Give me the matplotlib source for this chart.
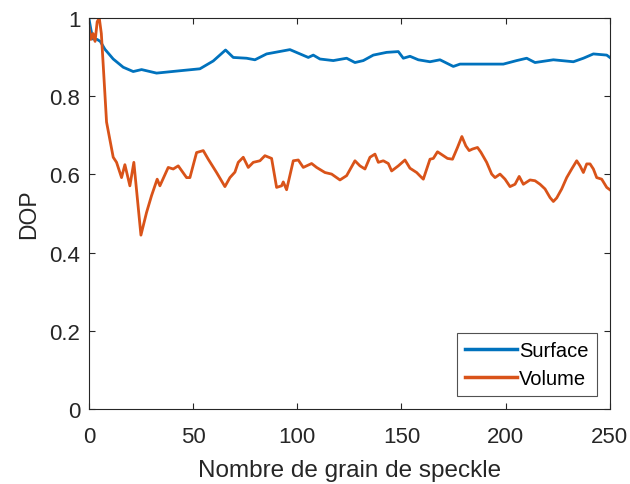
import matplotlib.pyplot as plt

plt.rcParams['font.family'] = ['Liberation Sans', 'DejaVu Sans']

# Valeurs
surface_x = [0, 1, 2, 4, 5.5, 7.7, 11.7, 16.5, 21.3, 25.3, 32.5, 43.7, 53.3, 59.7,
             65.6, 69.3, 75.7, 79.7, 85.3, 96.5, 105.3, 107.7, 110.9, 117.3, 123.7,
             127.7, 131.7, 136.5, 142.9, 148.5, 150.9, 154.1, 158.1, 163.7, 168.5,
             174.9, 178.1, 190.9, 198.9, 205.3, 210.1, 214.1, 222.9, 232.5, 237.3,
             242.1, 248.5, 250]
surface_y = [1.0, 0.97, 0.946, 0.945, 0.94, 0.92, 0.895, 0.874, 0.863, 0.868, 0.859,
             0.865, 0.87, 0.89, 0.918, 0.899, 0.897, 0.893, 0.908, 0.919, 0.899, 0.905,
             0.895, 0.891, 0.897, 0.886, 0.891, 0.905, 0.912, 0.914, 0.897, 0.902,
             0.893, 0.888, 0.893, 0.876, 0.882, 0.882, 0.882, 0.891, 0.897, 0.886,
             0.893, 0.888, 0.897, 0.908, 0.905, 0.899]

volume_x = [0, 1, 2, 3, 4, 5, 6, 6.9, 8.5, 11.7, 13.3, 15.7, 17.3, 19.7, 21.6, 25,
            27.7, 30.1, 32.8, 34.1, 38.1, 40.5, 42.9, 46.9, 48.5, 51.7, 54.9, 57.3,
            61.3, 65.3, 67.7, 70.1, 71.7, 74.1, 76.5, 78.9, 82.1, 84.5, 87.7, 90.1,
            92.5, 93.3, 94.9, 98.1, 100.5, 102.9, 106.9, 109.3, 113.3, 116.5, 120.5,
            123.7, 127.7, 130.1, 132.5, 134.9, 137.3, 138.9, 141.3, 143.7, 145.3,
            148.5, 151.7, 154.1, 157.3, 159.7, 160.5, 163.7, 165.3, 167.3, 172.1,
            174.5, 176.9, 179, 180.9, 182.5, 184.1, 186.5, 188.1, 190.9, 193.3, 194.9,
            197.3, 199.7, 202.1, 204.5, 206.5, 208.5, 211.7, 214.1, 216.5, 218.9,
            221.3, 222.9, 224.5, 226.9, 229.3, 231.7, 234.1, 235.7, 237.3, 238.9,
            240.5, 242.1, 243.7, 246.1, 248.5, 250]
volume_y = [0.98, 0.945, 0.96, 0.94, 0.99, 1.0, 0.96, 0.88, 0.734, 0.644, 0.631, 0.592,
            0.625, 0.571, 0.631, 0.445, 0.503, 0.546, 0.588, 0.571, 0.618, 0.614, 0.622,
            0.592, 0.592, 0.656, 0.661, 0.639, 0.605, 0.569, 0.592, 0.606, 0.631, 0.644,
            0.618, 0.631, 0.635, 0.648, 0.641, 0.567, 0.571, 0.581, 0.561, 0.635, 0.637,
            0.618, 0.628, 0.618, 0.605, 0.601, 0.586, 0.597, 0.635, 0.622, 0.614, 0.644,
            0.652, 0.631, 0.635, 0.628, 0.609, 0.622, 0.637, 0.616, 0.605, 0.592, 0.588,
            0.639, 0.641, 0.658, 0.641, 0.639, 0.669, 0.697, 0.673, 0.661, 0.665, 0.669,
            0.657, 0.631, 0.601, 0.592, 0.601, 0.588, 0.569, 0.575, 0.595, 0.575, 0.586,
            0.584, 0.575, 0.563, 0.541, 0.531, 0.54, 0.563, 0.592, 0.614, 0.635, 0.622,
            0.605, 0.627, 0.627, 0.614, 0.592, 0.588, 0.567, 0.561]

xticks = [0, 50, 100, 150, 200, 250]
yticks = [0, 0.2, 0.4, 0.6, 0.8, 1]
ytick_labels = ['0', '0.2', '0.4', '0.6', '0.8', '1']

fig = plt.figure(figsize=(6.3, 4.85), dpi=100)
ax = fig.add_axes([0.141, 0.154, 0.827, 0.807])

ax.plot(surface_x, surface_y, color='#0072BD', linewidth=2, label='Surface')
ax.plot(volume_x, volume_y, color='#D95319', linewidth=2, label='Volume')

ax.set_xlim(0, 250)
ax.set_ylim(0, 1)
ax.set_xticks(xticks)
ax.set_yticks(yticks)
ax.set_yticklabels(ytick_labels)
ax.tick_params(direction='in', top=True, right=True, labelsize=16, colors='#262626',
               length=4, width=0.8)
ax.tick_params(axis='x', pad=12)
ax.tick_params(axis='y', pad=6)
for s in ax.spines.values():
    s.set_color('#262626')
    s.set_linewidth(0.8)

ax.set_xlabel('Nombre de grain de speckle', fontsize=17.5, color='#262626', labelpad=9)
ax.set_ylabel('DOP', fontsize=16.5, color='#262626', labelpad=7)

leg = ax.legend(loc='lower right', fontsize=14.5, frameon=True, fancybox=False,
                edgecolor='#262626', handlelength=2.6, handletextpad=0.1,
                borderpad=0.4, labelspacing=0.45, borderaxespad=0.65)
leg.get_frame().set_linewidth(0.8)
for line in leg.get_lines():
    line.set_linewidth(2.5)

plt.savefig('out.png', dpi=100)
